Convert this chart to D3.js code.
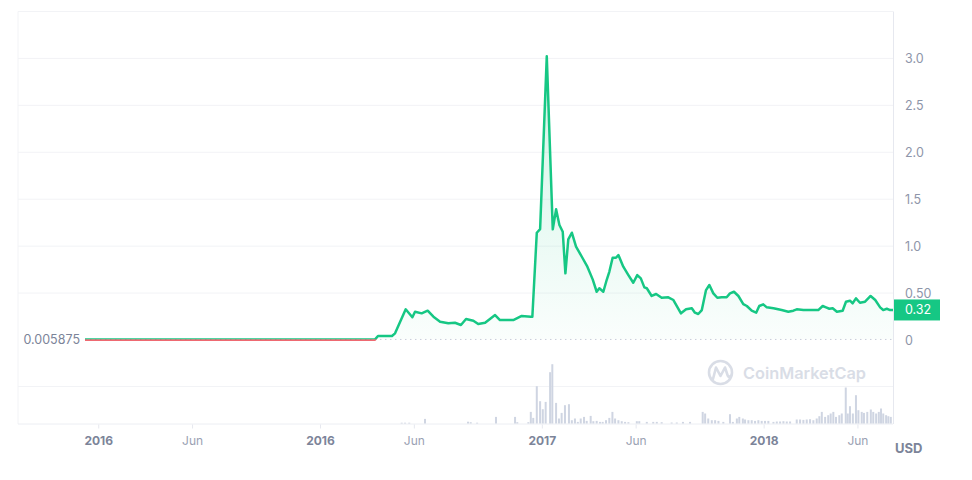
<!DOCTYPE html>
<html><head><meta charset="utf-8">
<script src="https://cdn.jsdelivr.net/npm/d3@7"></script>
<style>body{margin:0;background:#fff;font-family:Inter,"Noto Sans",sans-serif;}</style>
</head><body><svg id="c" width="972" height="480"></svg>
<script>
// ---- data (dates as decimal years) ----
const priceDates = [2014.938,2015.1,2015.3,2015.5,2015.7,2015.9,2016.1,2016.246,
 2016.259,2016.322,2016.336,2016.384,2016.414,2016.426,2016.456,2016.483,2016.509,2016.539,2016.576,2016.606,
 2016.633,2016.656,2016.689,2016.711,2016.742,2016.787,2016.809,2016.869,2016.907,2016.948,2016.955,2016.975,
 2016.990,2017.020,2017.047,2017.062,2017.077,2017.092,2017.104,2017.117,2017.133,2017.152,2017.178,2017.203,
 2017.227,2017.245,2017.257,2017.275,2017.290,2017.302,2017.317,2017.332,2017.343,2017.365,2017.388,2017.410,
 2017.428,2017.444,2017.460,2017.471,2017.493,2017.513,2017.538,2017.568,2017.591,2017.625,2017.648,2017.674,
 2017.688,2017.703,2017.719,2017.738,2017.753,2017.771,2017.789,2017.809,2017.831,2017.846,2017.864,2017.884,
 2017.906,2017.922,2017.944,2017.964,2017.978,2017.996,2018.012,2018.042,2018.079,2018.109,2018.132,2018.147,
 2018.177,2018.207,2018.244,2018.264,2018.279,2018.294,2018.309,2018.328,2018.354,2018.369,2018.387,2018.399,
 2018.414,2018.432,2018.455,2018.480,2018.501,2018.523,2018.537,2018.553,2018.568,2018.581];
const priceValues = [0.0059,0.0058,0.0060,0.0059,0.0058,0.0060,0.0059,0.0062,
 0.043,0.043,0.071,0.327,0.242,0.301,0.284,0.312,0.248,0.195,0.178,0.184,
 0.160,0.224,0.206,0.170,0.184,0.266,0.213,0.213,0.256,0.248,0.248,1.143,
 1.182,3.024,1.179,1.392,1.225,1.153,0.710,1.072,1.143,0.994,0.887,0.781,
 0.646,0.514,0.551,0.514,0.639,0.727,0.876,0.876,0.905,0.781,0.692,0.610,
 0.692,0.657,0.561,0.551,0.469,0.490,0.450,0.455,0.426,0.284,0.327,0.338,
 0.291,0.277,0.319,0.532,0.586,0.497,0.450,0.455,0.455,0.497,0.514,0.469,
 0.383,0.362,0.312,0.291,0.362,0.380,0.348,0.338,0.319,0.301,0.312,0.327,
 0.319,0.319,0.319,0.362,0.348,0.333,0.338,0.301,0.312,0.408,0.419,0.391,
 0.444,0.397,0.408,0.469,0.426,0.348,0.319,0.333,0.319,0.32];
const volumeDates = [2016.366,2016.381,2016.400,2016.471,2016.665,2016.677,2016.706,2016.791,2016.877,2016.887,
 2016.937,2016.948,2016.959,2016.975,2016.990,2017.002,2017.015,2017.035,2017.045,2017.062,
 2017.075,2017.087,2017.102,2017.120,2017.133,2017.147,2017.160,2017.173,2017.188,2017.200,
 2017.218,2017.230,2017.245,2017.260,2017.272,2017.287,2017.302,2017.316,2017.328,2017.343,
 2017.358,2017.373,2017.388,2017.426,2017.437,2017.471,2017.500,2017.516,2017.538,2017.583,
 2017.606,2017.634,2017.666,2017.723,2017.734,2017.748,2017.764,2017.779,2017.794,2017.816,
 2017.846,2017.859,2017.877,2017.888,2017.904,2017.914,2017.929,2017.944,2017.959,2017.974,
 2017.989,2018.004,2018.019,2018.042,2018.057,2018.072,2018.087,2018.102,2018.117,2018.147,
 2018.162,2018.177,2018.192,2018.207,2018.222,2018.237,2018.249,2018.260,2018.275,2018.289,
 2018.300,2018.312,2018.324,2018.339,2018.350,2018.368,2018.377,2018.387,2018.400,2018.414,
 2018.425,2018.440,2018.450,2018.465,2018.481,2018.492,2018.505,2018.517,2018.527,2018.537,
 2018.550,2018.560,2018.571];
const volumeValues = [0.8,0.8,0.8,4.6,1.8,1.3,0.8,6.6,6.6,1.3,
 1.3,11.6,5.6,37.3,22.3,14.3,21.6,51.3,59.3,20.6,
 5.0,10.6,18.3,19.3,3.3,5.0,1.6,5.0,6.6,2.6,
 7.6,2.3,2.6,1.6,1.6,3.3,5.6,11.6,5.0,3.3,
 2.3,1.6,1.3,2.3,2.3,1.6,1.6,1.6,1.3,1.0,
 1.0,1.6,1.6,11.6,10.0,5.0,3.3,3.3,2.6,1.6,
 9.3,1.6,5.0,6.6,5.0,4.0,3.3,3.3,2.6,3.3,
 2.6,2.6,2.6,1.6,2.0,2.0,2.3,2.0,2.0,4.0,
 4.0,3.6,4.0,4.3,3.3,5.0,7.3,11.6,6.6,8.3,
 10.0,11.6,6.6,8.3,10.0,36.0,10.0,17.3,10.0,28.3,
 13.3,11.6,10.6,11.6,14.0,11.6,10.0,11.6,15.0,10.0,
 8.3,7.3,6.6];
const yTicks = [0.5,1.0,1.5,2.0,2.5,3.0];
const yTickLabels = ["0.50","1.0","1.5","2.0","2.5","3.0"];
const xTicks = [2015,2015.423,2016,2016.423,2017,2017.423,2018,2018.423];
const xTickLabels = ["2016","Jun","2016","Jun","2017","Jun","2018","Jun"];
const xTickBold = [true,false,true,false,true,false,true,false];
const baseValue = 0.005875;
const baseLabel = "0.005875";
const lastLabel = "0.32";
const currency = "USD";

// ---- layout ----
const svg = d3.select("#c");
const L = 18, R = 893, T = 11.5, B0 = 340, VB = 423.5, VT = 349.5;
const x = d3.scaleLinear().domain([2014.636, 2018.581]).range([L, R]);
const y = d3.scaleLinear().domain([0, 3.5]).range([B0, T]);
const yv = d3.scaleLinear().domain([0, 74]).range([VB, VT]);
const green = "#16c784", red = "#ea3943";
const price = priceDates.map((d,i)=>({t:d,v:priceValues[i]}));
const vol = volumeDates.map((d,i)=>({t:d,v:volumeValues[i]}));

const defs = svg.append("defs");
const grad = defs.append("linearGradient").attr("id","g").attr("gradientUnits","userSpaceOnUse")
  .attr("x1",0).attr("x2",0).attr("y1",y(3.0)).attr("y2",y(0));
grad.append("stop").attr("offset",0).attr("stop-color",green).attr("stop-opacity",0.2);
grad.append("stop").attr("offset",1).attr("stop-color",green).attr("stop-opacity",0.02);
const yb = y(baseValue);
defs.append("clipPath").attr("id","above").append("rect").attr("x",0).attr("y",0).attr("width",972).attr("height",yb);
defs.append("clipPath").attr("id","below").append("rect").attr("x",0).attr("y",yb).attr("width",972).attr("height",480-yb);

// grid
const gridC = "#f2f3f6";
svg.append("g").selectAll("line").data(yTicks).join("line")
  .attr("x1",L).attr("x2",R).attr("y1",d=>y(d)).attr("y2",d=>y(d)).attr("stroke",gridC);
svg.append("line").attr("x1",L).attr("x2",R).attr("y1",y(3.5)).attr("y2",y(3.5)).attr("stroke",gridC);
svg.append("line").attr("x1",L).attr("x2",R).attr("y1",yv(37)).attr("y2",yv(37)).attr("stroke",gridC);
svg.append("line").attr("x1",L).attr("x2",L).attr("y1",y(3.5)).attr("y2",VB+0.5).attr("stroke",gridC);
svg.append("line").attr("x1",L).attr("x2",R).attr("y1",VB+0.5).attr("y2",VB+0.5).attr("stroke","#eceef3");
svg.append("line").attr("x1",R+0.5).attr("x2",R+0.5).attr("y1",y(3.5)).attr("y2",VB+0.5).attr("stroke","#e6e8ef");

// x ticks
svg.append("g").selectAll("line").data(xTicks).join("line")
  .attr("x1",d=>x(d)).attr("x2",d=>x(d)).attr("y1",VB+1).attr("y2",VB+5).attr("stroke","#e6e8ef");
svg.append("g").selectAll("text").data(xTicks).join("text")
  .attr("x",d=>x(d)).attr("y",444.5).attr("text-anchor","middle")
  .attr("font-size",12).attr("font-weight",(d,i)=>xTickBold[i]?700:400)
  .attr("fill",(d,i)=>xTickBold[i]?"#7c8499":"#9aa1b3")
  .text((d,i)=>xTickLabels[i]);

// watermark
const wm = svg.append("g").attr("fill","none").attr("stroke","#d9dde6");
wm.append("circle").attr("cx",720.5).attr("cy",372.5).attr("r",11.5).attr("stroke-width",2.6);
wm.append("path").attr("d","M713,379 L716,367.5 L720.5,376 L725,367.5 L727.5,375 Q728.5,378 730.5,376")
  .attr("stroke-width",2.6).attr("stroke-linejoin","round").attr("stroke-linecap","round");
svg.append("text").attr("x",743).attr("y",379).attr("font-size",16.3).attr("font-weight",600)
  .attr("fill","#d9dde6").text("CoinMarketCap");

// volume bars
svg.append("g").selectAll("rect").data(vol).join("rect")
  .attr("x",d=>x(d.t)-1).attr("width",2).attr("y",d=>yv(d.v)).attr("height",d=>yv(0)-yv(d.v))
  .attr("fill","#cfd5e2");

// baseline dotted
svg.append("line").attr("x1",x(priceDates[0])).attr("x2",R).attr("y1",yb).attr("y2",yb)
  .attr("stroke","#c9ceda").attr("stroke-width",1).attr("stroke-dasharray","1.5,3.5");

// area + lines
const area = d3.area().x(d=>x(d.t)).y0(yb).y1(d=>y(d.v)).curve(d3.curveLinear);
const line = d3.line().x(d=>x(d.t)).y(d=>y(d.v)).curve(d3.curveLinear);
svg.append("path").datum(price).attr("d",area).attr("fill","url(#g)").attr("clip-path","url(#above)");
svg.append("path").datum(price).attr("d",line).attr("fill","none").attr("stroke",green)
  .attr("stroke-width",2.5).attr("stroke-linejoin","round").attr("clip-path","url(#above)");
svg.append("path").datum(price).attr("d",line).attr("fill","none").attr("stroke",red)
  .attr("stroke-width",2.5).attr("stroke-linejoin","round").attr("clip-path","url(#below)");

// right axis labels
const axC = "#8e95a9";
svg.append("g").selectAll("text").data(yTicks).join("text")
  .attr("x",905).attr("y",d=>y(d)+4.5).attr("font-size",12.5).attr("fill",axC)
  .text((d,i)=>yTickLabels[i]);
svg.append("text").attr("x",905).attr("y",y(0)+4.5).attr("font-size",12.5).attr("fill",axC).text("0");
// base label
svg.append("text").attr("x",80).attr("y",yb+4.5).attr("text-anchor","end").attr("font-size",12.5)
  .attr("fill","#7c8499").text(baseLabel);
// last price tag
const lastY = y(priceValues[priceValues.length-1]);
svg.append("rect").attr("x",R+1).attr("y",lastY-10.5).attr("width",46).attr("height",21).attr("fill",green);
svg.append("text").attr("x",905).attr("y",lastY+4.5).attr("font-size",12.5).attr("fill","#fff").text(lastLabel);
// currency
svg.append("text").attr("x",895).attr("y",452.5).attr("font-size",13).attr("font-weight",700)
  .attr("fill","#7c8499").text(currency);
</script></body></html>
